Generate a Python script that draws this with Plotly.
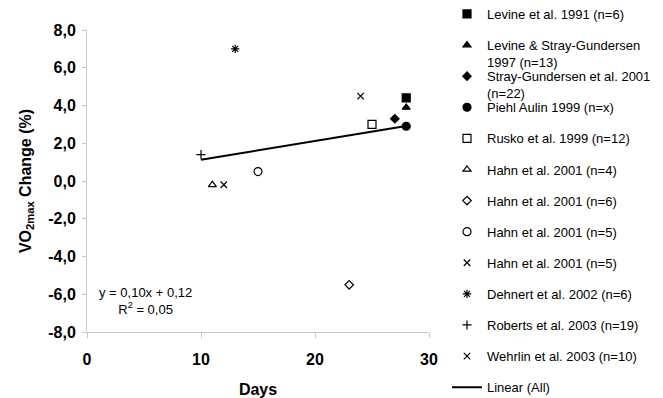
import plotly.graph_objects as go

# ---- data ----
studies = [
    "Levine et al. 1991 (n=6)",
    "Levine & Stray-Gundersen<br>1997 (n=13)",
    "Stray-Gundersen et al. 2001<br>(n=22)",
    "Piehl Aulin 1999 (n=x)",
    "Rusko et al. 1999 (n=12)",
    "Hahn et al. 2001 (n=4)",
    "Hahn et al. 2001 (n=6)",
    "Hahn et al. 2001 (n=5)",
    "Hahn et al. 2001 (n=5)",
    "Dehnert et al. 2002 (n=6)",
    "Roberts et al. 2003 (n=19)",
    "Wehrlin et al. 2003 (n=10)",
]
days = [28, 28, 27, 28, 25, 11, 23, 15, 12, 13, 10, 24]
vo2_change = [4.4, 3.9, 3.3, 2.9, 3.0, -0.2, -5.5, 0.5, -0.2, 7.0, 1.4, 4.5]

trend_name = "Linear (All)"
trend_days = [10, 28]
trend_change = [1.12, 2.92]

x_ticks = [0, 10, 20, 30]
y_ticks = [-8, -6, -4, -2, 0, 2, 4, 6, 8]
y_tick_labels = ["-8,0", "-6,0", "-4,0", "-2,0", "0,0", "2,0", "4,0", "6,0", "8,0"]

# ---- styles ----
symbols = ["square", "triangle-up", "diamond", "circle",
           "square-open", "triangle-up-open", "diamond-open", "circle-open",
           "x-thin-open", "asterisk-open", "cross-thin-open", "x-thin-open"]
sizes = [8, 7, 6.5, 8, 8, 7, 6.5, 8, 6.5, 7, 6.5, 6.5]

FONT = "Liberation Sans, Arial, sans-serif"

# the page body has an 8px margin, so the figure is 8px smaller than the window
W, H = 655, 390
ML, MR, MT, MB = 79, 234, 22, 66
PLOT_H = H - MT - MB
PLOT_W = W - ML - MR

LEG_X = (439 - ML) / PLOT_W          # legend left edge
LEG_FIRST = 6                        # centre of first legend row (figure px)
LEG_STEP = 31.1                      # spacing between legend rows (px)
LEG_PAD = 15                         # distance from legend top to first row centre


def legend_key(i):
    return "legend" if i == 0 else f"legend{i + 1}"


def legend_layout(i):
    top_px = LEG_FIRST + LEG_STEP * i - LEG_PAD
    return dict(
        x=LEG_X, xanchor="left", y=(H - MB - top_px) / PLOT_H, yanchor="top",
        font=dict(family=FONT, size=13, color="black"),
        valign="top", bgcolor="rgba(0,0,0,0)", borderwidth=0,
    )


fig = go.Figure()
for i, name in enumerate(studies):
    fig.add_trace(go.Scatter(
        x=[days[i]], y=[vo2_change[i]], mode="markers", name=name,
        legend=legend_key(i),
        marker=dict(symbol=symbols[i], size=sizes[i], color="black",
                    line=dict(color="black", width=1.2)),
        cliponaxis=False,
    ))

n_trend = len(studies)
fig.add_trace(go.Scatter(
    x=trend_days, y=trend_change, mode="lines", name=trend_name,
    legend=legend_key(n_trend), line=dict(color="black", width=2),
))

fig.add_annotation(
    x=5.1, y=-6.35, xref="x", yref="y",
    text="y = 0,10x + 0,12<br>R<sup>2</sup> = 0,05",
    showarrow=False, font=dict(family=FONT, size=13, color="black"),
    align="center",
)

layout_legends = {legend_key(i): legend_layout(i) for i in range(n_trend + 1)}

fig.update_layout(
    width=W, height=H,
    margin=dict(l=ML, r=MR, t=MT, b=MB, autoexpand=False),
    paper_bgcolor="white", plot_bgcolor="white",
    font=dict(family=FONT, color="black"),
    showlegend=True,
    **layout_legends,
)

fig.update_xaxes(
    range=[0, 30], tickvals=x_ticks, ticktext=[str(v) for v in x_ticks],
    showgrid=False, zeroline=False, showline=True, linecolor="#c8c8c8", linewidth=1,
    ticks="outside", ticklen=5, tickcolor="#c8c8c8",
    tickfont=dict(family=FONT, size=16, color="black", weight="bold"),
    ticklabelstandoff=8,
    title=dict(text="<b>Days</b>", font=dict(family=FONT, size=16, color="black"), standoff=19),
)
fig.update_yaxes(
    range=[-8, 8], tickvals=y_ticks, ticktext=y_tick_labels,
    showgrid=False, zeroline=False, showline=True, linecolor="#c8c8c8", linewidth=1,
    ticks="outside", ticklen=4, tickcolor="#c8c8c8",
    tickfont=dict(family=FONT, size=16, color="black", weight="bold"),
    ticklabelstandoff=3,
    title=dict(text="<b>VO<sub>2max</sub> Change (%)</b>",
               font=dict(family=FONT, size=16, color="black"), standoff=12),
)

fig.write_html("out.html")
